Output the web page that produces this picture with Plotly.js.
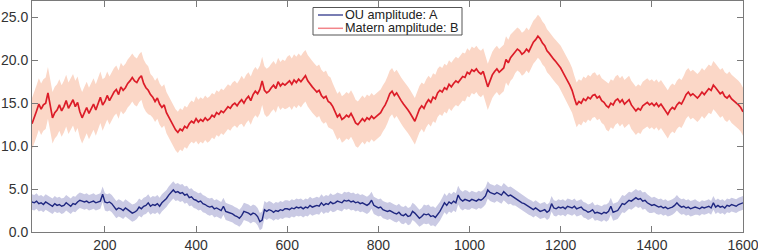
<!DOCTYPE html>
<html><head><meta charset="utf-8">
<script src="https://cdn.plot.ly/plotly-3.0.1.min.js"></script>
<style>html,body{margin:0;padding:0;background:#fff}#chart{width:758px;height:252px}</style>
</head><body><div id="chart"></div>
<script>
// x grid: first sample and spacing
const xStart = 40, xStep = 5;

// Matern amplitude B (posterior mean), sampled every 5 units from x=40
const maternB = [
12.6,13.5,14.1,14.9,14.3,14.8,15.0,16.2,14.6,13.3,13.9,14.2,
14.8,14.1,14.6,15.3,14.4,14.9,15.4,14.6,15.1,14.0,13.3,13.9,14.5,13.8,14.3,14.9,14.2,15.0,15.7,14.8,
15.2,15.9,15.3,15.8,16.3,16.6,16.0,16.9,16.5,16.8,17.3,17.6,18.0,17.6,17.4,17.9,18.2,17.3,16.8,16.5,
16.0,15.7,15.2,15.6,14.9,14.5,14.8,13.9,13.4,12.8,12.3,11.9,11.6,12.0,11.8,12.3,12.1,12.6,12.9,12.7,
13.2,12.8,13.1,12.9,13.3,13.0,13.2,13.6,13.4,13.9,13.7,14.1,13.9,14.3,14.6,14.4,14.8,15.0,14.7,15.1,
15.4,15.0,15.5,15.8,15.3,16.0,16.4,16.1,16.6,17.6,16.5,16.2,16.4,16.8,17.1,16.7,17.5,17.0,17.3,17.1,
17.4,17.6,17.2,17.7,17.4,17.8,17.5,17.9,18.2,17.6,17.2,16.9,16.6,16.3,16.5,15.9,15.6,15.8,15.2,15.0,
14.6,14.0,13.4,13.7,13.1,13.3,13.6,13.4,13.8,13.3,12.7,12.5,12.9,13.2,12.9,13.3,13.1,13.5,13.2,13.4,
13.6,13.9,14.4,14.8,15.4,16.1,16.4,15.9,16.2,15.7,15.3,14.9,14.6,14.2,13.8,13.3,12.9,13.6,14.3,14.7,
14.4,15.0,15.4,15.1,15.7,15.5,16.2,16.5,16.3,16.8,16.6,17.2,16.9,17.3,17.6,17.4,17.8,18.1,18.0,18.6,
18.4,18.9,18.7,19.0,18.6,18.4,18.7,17.8,16.9,17.6,18.3,18.7,19.0,18.6,18.8,19.1,20.1,19.7,20.3,20.6,
21.0,21.3,21.1,20.7,20.9,21.3,21.0,21.6,22.1,22.4,22.8,22.5,22.0,21.7,21.1,20.8,20.4,20.1,19.8,19.5,
19.1,18.6,18.0,17.6,17.1,16.5,15.6,14.8,15.2,15.0,15.5,15.3,15.7,15.5,15.9,16.0,15.6,15.8,15.3,15.1,
14.7,14.5,15.0,14.8,15.3,15.5,15.1,15.4,14.9,15.2,15.4,14.8,14.5,14.1,14.4,14.2,14.7,14.9,15.1,14.8,
15.0,14.7,15.0,14.6,14.9,14.5,14.1,13.7,14.2,14.5,14.3,14.8,15.1,14.9,15.4,16.0,16.3,15.9,16.1,15.8,
15.6,15.9,16.3,16.0,16.4,16.7,16.5,17.1,16.8,16.4,16.1,16.3,15.8,15.6,15.9,15.5,15.3,15.1,14.8,14.5,14.0
];

// OU amplitude A (posterior mean), same grid
const ouA = [
3.5,3.4,3.6,3.3,3.4,3.2,3.5,3.3,3.1,3.0,3.3,3.1,
3.2,3.0,3.1,3.4,3.2,3.0,3.3,3.2,3.5,3.7,3.6,3.5,3.6,3.4,3.5,3.6,3.4,3.5,3.6,4.4,
3.5,3.4,3.5,3.3,2.9,2.6,2.8,2.7,2.5,2.8,2.6,2.4,2.2,2.3,2.5,2.9,2.7,3.0,3.1,3.4,
3.0,3.2,3.1,3.3,3.0,3.4,3.6,3.9,4.3,4.6,4.9,4.6,4.7,4.5,4.6,4.3,4.4,4.0,4.1,3.8,
3.7,3.5,3.6,3.3,3.2,3.0,2.9,3.0,2.7,2.8,2.6,2.5,3.0,2.4,2.3,2.2,2.1,1.9,1.8,1.6,
1.9,2.4,2.3,2.2,2.0,2.2,2.1,1.8,1.2,1.4,2.6,2.4,2.6,2.5,2.3,2.5,2.4,2.6,2.5,2.7,
2.7,2.6,2.8,2.7,2.9,2.8,2.9,2.7,2.9,2.8,3.1,2.9,3.0,3.1,3.0,3.4,3.1,3.3,3.2,3.5,
3.3,3.4,3.6,3.5,3.4,3.7,3.6,3.7,3.5,3.6,3.4,3.5,3.3,3.4,3.2,3.1,3.3,3.7,3.1,2.9,
2.8,2.9,2.6,2.5,2.4,2.5,2.3,2.2,2.1,2.3,2.0,1.9,2.1,1.8,1.9,2.4,2.2,1.9,1.6,1.8,
2.1,2.0,2.1,1.8,1.9,1.7,2.0,2.4,2.9,3.4,3.1,3.5,3.3,3.6,3.4,4.3,3.8,3.6,3.8,3.7,
3.6,3.8,3.7,3.6,3.8,3.7,3.9,4.2,4.9,4.6,4.5,4.4,4.6,4.4,4.3,4.7,4.4,4.2,4.3,4.1,
4.0,3.8,3.6,3.4,3.3,3.1,2.9,2.8,2.6,2.8,2.6,2.4,2.5,2.6,2.3,2.5,3.3,2.8,2.7,2.9,
2.8,2.9,2.7,3.0,2.9,2.8,3.0,2.7,2.8,2.9,2.6,2.5,2.3,2.4,2.6,2.2,2.3,2.2,2.1,2.3,
2.2,2.4,3.0,2.3,2.4,2.5,2.9,3.3,3.2,3.5,3.7,3.6,3.8,4.0,3.8,3.9,3.6,3.7,3.4,3.2,
3.1,3.2,3.0,2.9,3.0,2.8,2.9,2.7,2.8,2.9,3.1,3.4,3.1,2.9,3.0,2.8,2.9,2.7,2.8,2.9,
2.8,2.7,2.9,2.8,2.9,3.0,2.8,3.4,2.9,3.1,2.9,3.0,2.8,3.1,3.0,3.2,3.1,3.0,3.2,3.3,3.4
];

// half-width of the shaded uncertainty band, one value per 100-unit block of x
const maternSpread = [3.0,3.0,2.8,2.4,2.6,2.8,3.0,2.7,2.7,2.8,2.7,2.5,2.6,2.8,2.8,2.8];
const ouSpread     = [0.9,0.9,1.0,1.0,1.0,1.0,1.0,1.0,1.0,1.1,1.0,0.9,0.9,1.0,0.9,0.8];

const xTicks = [200,400,600,800,1000,1200,1400,1600];
const yTicks = [0,5,10,15,20,25];
const seriesNames = ['OU amplitude: A','Matern amplitude: B'];

const xs = maternB.map((_, i) => xStart + i * xStep);
function bandEdge(vals, spread, sign) {
  return vals.map((v, i) => v + sign * spread[Math.min(Math.floor(xs[i] / 100), spread.length - 1)]);
}

const ouCol = '#1f2780', ouFill = 'rgb(202,202,228)';
const maCol = '#dc1c28', maFill = 'rgb(251,215,199)';

const traces = [
  {x: xs, y: bandEdge(ouA, ouSpread, -1), mode: 'lines', line: {width: 0}, showlegend: false, hoverinfo: 'skip'},
  {x: xs, y: bandEdge(ouA, ouSpread, 1), mode: 'lines', line: {width: 0}, fill: 'tonexty', fillcolor: ouFill, showlegend: false, hoverinfo: 'skip'},
  {x: xs, y: bandEdge(maternB, maternSpread, -1), mode: 'lines', line: {width: 0}, showlegend: false, hoverinfo: 'skip'},
  {x: xs, y: bandEdge(maternB, maternSpread, 1), mode: 'lines', line: {width: 0}, fill: 'tonexty', fillcolor: maFill, showlegend: false, hoverinfo: 'skip'},
  {x: xs, y: ouA, mode: 'lines', name: seriesNames[0], line: {color: ouCol, width: 1.4}, showlegend: false},
  {x: xs, y: maternB, mode: 'lines', name: seriesNames[1], line: {color: maCol, width: 1.7}, showlegend: false}
];

// pixel -> paper helpers for the hand-drawn legend box
const L = 32, W = 711, T = 1, H = 231;
const pxX = p => (p - L) / W;
const pxY = p => 1 - (p - T) / H;

const axisCommon = {
  showgrid: false, zeroline: false, showline: true, mirror: 'ticks',
  linecolor: '#7a7a7a', linewidth: 1, ticks: 'inside', ticklen: 6, tickwidth: 1, tickcolor: '#7a7a7a',
  ticklabeloverflow: 'allow',
  tickfont: {family: 'Liberation Sans, Arial, Helvetica, sans-serif', size: 14, color: '#333'}
};

const fontLeg = {family: 'Liberation Sans, Arial, Helvetica, sans-serif', size: 12.7, color: '#222'};

const layout = {
  width: 758, height: 252,
  margin: {l: L, r: 758 - L - W, t: T, b: 252 - T - H, pad: 0},
  paper_bgcolor: '#fff', plot_bgcolor: '#fff',
  showlegend: false,
  xaxis: Object.assign({}, axisCommon, {range: [40, 1600], tickvals: xTicks, ticktext: xTicks.map(String)}),
  yaxis: Object.assign({}, axisCommon, {range: [0, 26.9], tickvals: yTicks, ticktext: yTicks.map(v => v.toFixed(1))}),
  shapes: [
    {type: 'rect', xref: 'paper', yref: 'paper', x0: pxX(313), x1: pxX(462), y0: pxY(35), y1: pxY(7.5),
     line: {color: '#555', width: 1}, fillcolor: '#fff', layer: 'above'},
    {type: 'line', xref: 'paper', yref: 'paper', x0: pxX(318), x1: pxX(343), y0: pxY(15), y1: pxY(15),
     line: {color: ouCol, width: 1.2}, layer: 'above'},
    {type: 'line', xref: 'paper', yref: 'paper', x0: pxX(318), x1: pxX(343), y0: pxY(28.3), y1: pxY(28.3),
     line: {color: '#f2858a', width: 1.5}, layer: 'above'}
  ],
  annotations: [
    {xref: 'paper', yref: 'paper', x: pxX(343), y: pxY(15), xanchor: 'left', yanchor: 'middle', showarrow: false,
     text: seriesNames[0], font: fontLeg},
    {xref: 'paper', yref: 'paper', x: pxX(343), y: pxY(28.3), xanchor: 'left', yanchor: 'middle', showarrow: false,
     text: seriesNames[1], font: fontLeg}
  ]
};

Plotly.newPlot('chart', traces, layout, {displayModeBar: false, staticPlot: true});
</script>
</body></html>
